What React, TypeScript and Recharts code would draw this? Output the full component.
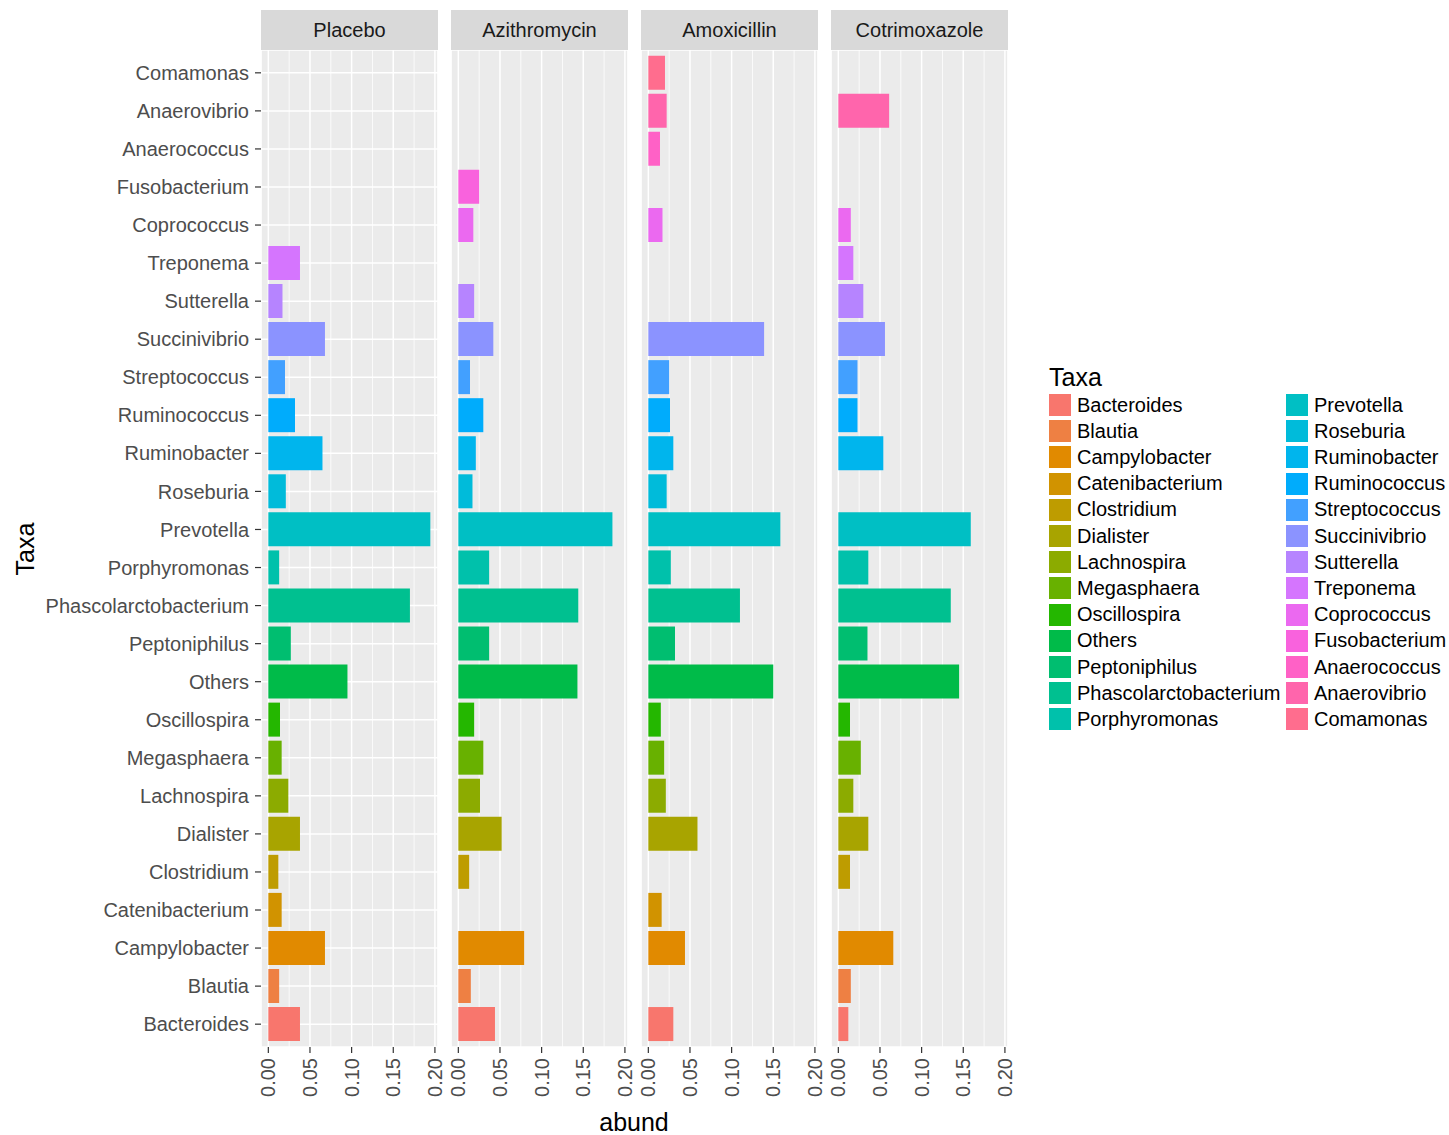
import React from "react";
import {
  BarChart,
  Bar,
  XAxis,
  YAxis,
  CartesianGrid,
  Cell,
} from "recharts";

// factor levels, legend order (bottom -> top on the y axis)
const taxa = [
  "Bacteroides",
  "Blautia",
  "Campylobacter",
  "Catenibacterium",
  "Clostridium",
  "Dialister",
  "Lachnospira",
  "Megasphaera",
  "Oscillospira",
  "Others",
  "Peptoniphilus",
  "Phascolarctobacterium",
  "Porphyromonas",
  "Prevotella",
  "Roseburia",
  "Ruminobacter",
  "Ruminococcus",
  "Streptococcus",
  "Succinivibrio",
  "Sutterella",
  "Treponema",
  "Coprococcus",
  "Fusobacterium",
  "Anaerococcus",
  "Anaerovibrio",
  "Comamonas",
];

const treatments = ["Placebo", "Azithromycin", "Amoxicillin", "Cotrimoxazole"];

// abundance per taxon, same order as taxa; null = not present
const placebo = [
  0.038, 0.013, 0.068, 0.016, 0.012, 0.038, 0.024, 0.016, 0.014, 0.095, 0.027,
  0.17, 0.013, 0.1945, 0.021, 0.065, 0.032, 0.02, 0.068, 0.017, 0.038, null,
  null, null, null, null,
];
const azithromycin = [
  0.044, 0.015, 0.079, null, 0.013, 0.052, 0.026, 0.03, 0.019, 0.143, 0.037,
  0.144, 0.037, 0.185, 0.017, 0.021, 0.03, 0.014, 0.042, 0.019, null, 0.018,
  0.025, null, null, null,
];
const amoxicillin = [
  0.03, null, 0.044, 0.016, null, 0.059, 0.021, 0.019, 0.015, 0.15, 0.032, 0.11,
  0.027, 0.1585, 0.022, 0.03, 0.026, 0.025, 0.139, null, null, 0.017, null,
  0.014, 0.022, 0.02,
];
const cotrimoxazole = [
  0.012, 0.015, 0.066, null, 0.014, 0.036, 0.018, 0.027, 0.014, 0.145, 0.035,
  0.135, 0.036, 0.159, null, 0.054, 0.023, 0.023, 0.056, 0.03, 0.018, 0.015,
  null, null, 0.061, null,
];

const panelValues = [placebo, azithromycin, amoxicillin, cotrimoxazole];

const xTicks = [0, 0.05, 0.1, 0.15, 0.2];
const xMinor = [0.025, 0.075, 0.125, 0.175];
const xDomain = [-0.0088, 0.2037];

// ggplot2 default hue palette (hcl, l = 65, c = 100)
function hcl(h: number, c = 100, l = 65) {
  const hr = (h * Math.PI) / 180;
  const U = c * Math.cos(hr);
  const V = c * Math.sin(hr);
  const Xn = 95.047, Yn = 100, Zn = 108.883;
  const t = Xn + 15 * Yn + 3 * Zn;
  const un = (4 * Xn) / t;
  const vn = (9 * Yn) / t;
  const Y = Yn * Math.pow((l + 16) / 116, 3);
  const u = U / (13 * l) + un;
  const v = V / (13 * l) + vn;
  const X = (9 * Y * u) / (4 * v);
  const Z = -X / 3 - 5 * Y + (3 * Y) / v;
  const g = (x: number) => {
    const y = x > 0.00304 ? 1.055 * Math.pow(x, 1 / 2.4) - 0.055 : 12.92 * x;
    return Math.round(Math.min(1, Math.max(0, y)) * 255);
  };
  const r = g((3.240479 * X - 1.53715 * Y - 0.498535 * Z) / 100);
  const gg = g((-0.969256 * X + 1.875992 * Y + 0.041556 * Z) / 100);
  const b = g((0.055648 * X - 0.204043 * Y + 1.057311 * Z) / 100);
  return "#" + [r, gg, b].map((n) => n.toString(16).padStart(2, "0")).join("");
}

const palette = taxa.map((_, i) => hcl(15 + (360 / taxa.length) * i));

const PLOT_TOP = 50;
const PLOT_H = 997;
const PANEL_W = 177;
const PANEL_STEP = 190;
const FIRST_LEFT = 261;
const YAXIS_W = 261;
const XAXIS_H = 70;
const SIDE = 14; // room for rotated tick labels at panel edges

const FONT = "'Liberation Sans', Arial, sans-serif";

function RotTick(props: any) {
  const { x, y, payload } = props;
  return (
    <text
      x={x}
      y={y}
      transform={`rotate(-90 ${x} ${y})`}
      textAnchor="end"
      dominantBaseline="central"
      fill="#4D4D4D"
      fontSize={20}
    >
      {Number(payload.value).toFixed(2)}
    </text>
  );
}

function Panel({ idx }: { idx: number }) {
  const values = panelValues[idx];
  const data = taxa.map((t, i) => ({ taxon: t, abund: values[i], color: palette[i] }));
  const yw = idx === 0 ? YAXIS_W : 0;
  const ml = idx === 0 ? 0 : SIDE;
  const left = FIRST_LEFT + idx * PANEL_STEP - yw - ml;
  return (
    <div style={{ position: "absolute", left, top: 10 }}>
      <div
        style={{
          marginLeft: yw + ml,
          width: PANEL_W,
          height: PLOT_TOP - 10,
          background: "#D9D9D9",
          display: "flex",
          alignItems: "center",
          justifyContent: "center",
          fontSize: 20,
          color: "#1A1A1A",
        }}
      >
        {treatments[idx]}
      </div>
      <BarChart
        width={ml + yw + PANEL_W + SIDE}
        height={PLOT_H + XAXIS_H}
        data={data}
        layout="vertical"
        margin={{ top: 0, right: SIDE, bottom: 0, left: ml }}
        barCategoryGap="5%"
      >
        <CartesianGrid fill="#EBEBEB" stroke="#FFFFFF" strokeWidth={1.5} />
        <CartesianGrid
          xAxisId="minor"
          horizontal={false}
          stroke="#FFFFFF"
          strokeWidth={0.8}
        />
        <XAxis
          type="number"
          dataKey="abund"
          domain={xDomain}
          allowDataOverflow
          ticks={xTicks}
          interval={0}
          height={XAXIS_H}
          tick={<RotTick />}
          tickSize={6}
          tickMargin={5}
          tickLine={{ stroke: "#333333", strokeWidth: 1.2 }}
          axisLine={false}
        />
        <XAxis
          xAxisId="minor"
          type="number"
          domain={xDomain}
          allowDataOverflow
          ticks={xMinor}
          interval={0}
          hide
        />
        <YAxis
          type="category"
          dataKey="taxon"
          reversed
          width={yw}
          interval={0}
          padding={{ top: 3.8, bottom: 3.8 }}
          tick={idx === 0 ? { fill: "#4D4D4D", fontSize: 20 } : false}
          tickSize={6}
          tickMargin={6}
          tickLine={idx === 0 ? { stroke: "#333333", strokeWidth: 1.2 } : false}
          axisLine={false}
        />
        <Bar dataKey="abund" isAnimationActive={false}>
          {data.map((d) => (
            <Cell key={d.taxon} fill={d.color} />
          ))}
        </Bar>
      </BarChart>
    </div>
  );
}

function Legend() {
  const rows = 13;
  return (
    <div style={{ position: "absolute", left: 1049, top: 362 }}>
      <div style={{ position: "absolute", left: 0, top: 0, fontSize: 25, lineHeight: "30px", color: "#000" }}>
        Taxa
      </div>
      {taxa.map((t, i) => {
        const col = Math.floor(i / rows);
        const row = i % rows;
        const x = col * 237;
        const y = 32 + row * 26.2;
        return (
          <div key={t} style={{ position: "absolute", left: x, top: y, display: "flex", alignItems: "center", height: 22 }}>
            <div style={{ width: 22, height: 22, background: palette[i], marginRight: 6 }} />
            <div style={{ fontSize: 20, color: "#000", whiteSpace: "nowrap" }}>{t}</div>
          </div>
        );
      })}
    </div>
  );
}

export default function App() {
  return (
    <div
      style={{
        position: "absolute",
        left: 0,
        top: 0,
        width: 1449,
        height: 1135,
        background: "#FFFFFF",
        fontFamily: FONT,
        overflow: "hidden",
      }}
    >
      {treatments.map((_, i) => (
        <Panel key={i} idx={i} />
      ))}
      <div
        style={{
          position: "absolute",
          left: 25,
          top: 549,
          transform: "translate(-50%, -50%) rotate(-90deg)",
          fontSize: 25,
          color: "#000",
        }}
      >
        Taxa
      </div>
      <div
        style={{
          position: "absolute",
          left: 634,
          top: 1122,
          transform: "translate(-50%, -50%)",
          fontSize: 25,
          color: "#000",
        }}
      >
        abund
      </div>
      <Legend />
    </div>
  );
}
